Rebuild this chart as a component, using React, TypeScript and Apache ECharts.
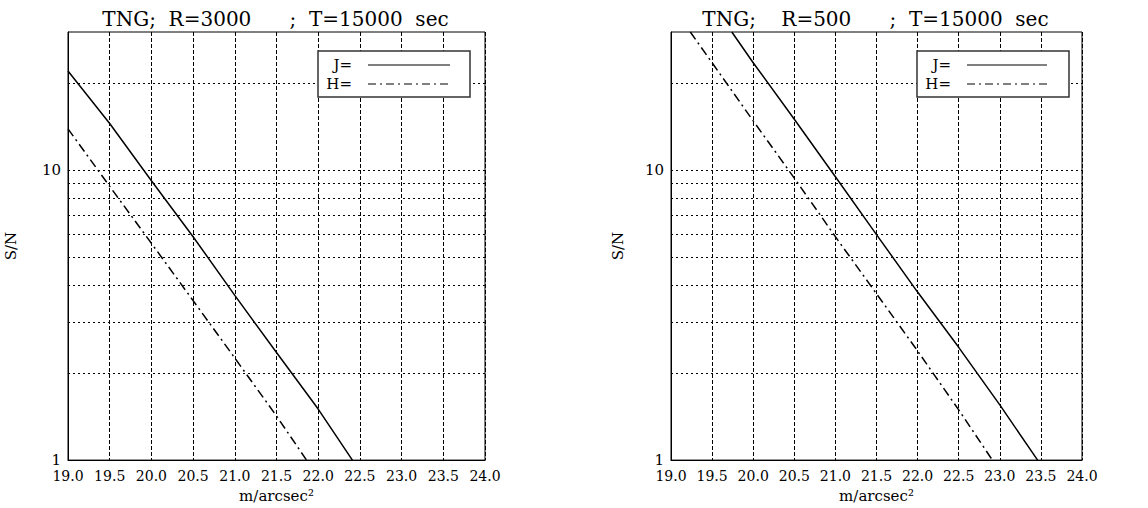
import React, { useEffect, useRef } from "react";
import * as echarts from "echarts";

// ---- data ----
const titles = ["TNG;  R=3000      ;  T=15000  sec", "TNG;    R=500      ;  T=15000  sec"];
const xMin = 19.0;
const xMax = 24.0;
const xStep = 0.5;
const yMin = 1;
const yMax = 30;
const yLabelValues = [1, 10];
const gridSN = [2, 3, 4, 5, 6, 7, 8, 9, 10, 20];

const magsLeftJ = [19.0, 19.5, 20.0, 20.5, 21.0, 21.5, 22.0, 22.41];
const snLeftJ = [22.0, 14.5, 9.2, 5.9, 3.7, 2.35, 1.5, 1.0];
const magsLeftH = [19.0, 19.5, 20.0, 20.5, 21.0, 21.5, 21.86];
const snLeftH = [13.9, 8.8, 5.6, 3.55, 2.25, 1.42, 1.0];

const magsRightJ = [19.74, 20.0, 20.5, 21.0, 21.5, 22.0, 22.5, 23.0, 23.46];
const snRightJ = [30.0, 23.5, 15.0, 9.5, 6.0, 3.8, 2.45, 1.55, 1.0];
const magsRightH = [19.235, 19.5, 20.0, 20.5, 21.0, 21.5, 22.0, 22.5, 22.91];
const snRightH = [30.0, 23.5, 14.8, 9.4, 5.9, 3.75, 2.38, 1.49, 1.0];

const legendLabels = ["J=", "H="];

const FONT = "DejaVu Serif";
const DASHDOT = [9, 4, 2, 4];

const grids = [
  { left: 68, top: 32, width: 417, height: 436 },
  { left: 671, top: 32, width: 411, height: 436 },
];

function zip(a: number[], b: number[]) {
  return a.map((v, i) => [v, b[i]]);
}

function legendGraphic(boxX: number, textRight: number, lineX1: number, lineX2: number) {
  const y0 = 51;
  return [
    {
      type: "rect",
      z: 100,
      shape: { x: boxX, y: y0, width: 152, height: 46 },
      style: { fill: "#fff", stroke: "#333", lineWidth: 1.5 },
    },
    {
      type: "text",
      z: 101,
      x: textRight,
      y: 65,
      style: { text: legendLabels[0], font: `15px "${FONT}"`, fill: "#000", textAlign: "right", textVerticalAlign: "middle" },
    },
    {
      type: "text",
      z: 101,
      x: textRight,
      y: 84,
      style: { text: legendLabels[1], font: `15px "${FONT}"`, fill: "#000", textAlign: "right", textVerticalAlign: "middle" },
    },
    {
      type: "line",
      z: 101,
      shape: { x1: lineX1, y1: 65, x2: lineX2, y2: 65 },
      style: { stroke: "#000", lineWidth: 1 },
    },
    {
      type: "line",
      z: 101,
      shape: { x1: lineX1, y1: 84, x2: lineX2, y2: 84 },
      style: { stroke: "#000", lineWidth: 1, lineDash: [8, 4, 2, 4] },
    },
  ];
}

function buildOption() {
  const xAxes = [0, 1].map((gi) => ({
    type: "value",
    gridIndex: gi,
    min: xMin,
    max: xMax,
    interval: xStep,
    name: "m/arcsec²",
    nameLocation: "middle",
    nameGap: 23,
    nameTextStyle: { fontFamily: FONT, fontSize: 15, color: "#000" },
    axisLine: { show: true, lineStyle: { color: "#000", width: 1 } },
    axisTick: { show: false },
    axisLabel: {
      margin: 9,
      fontFamily: FONT,
      fontSize: 14,
      color: "#000",
      formatter: (v: number) => v.toFixed(1),
    },
    splitLine: { show: true, lineStyle: { color: "#000", width: 1, type: [4, 2] } },
  }));
  const yAxes = [0, 1].map((gi) => ({
    type: "log",
    logBase: 10,
    gridIndex: gi,
    min: yMin,
    max: yMax,
    name: "S/N",
    nameLocation: "middle",
    nameGap: gi === 0 ? 50 : 46,
    nameTextStyle: { fontFamily: FONT, fontSize: 15, color: "#000" },
    axisLine: { show: true, lineStyle: { color: "#000", width: 1 } },
    axisTick: { show: false },
    axisLabel: {
      margin: 7,
      fontFamily: FONT,
      fontSize: 15,
      color: "#000",
      showMaxLabel: false,
      formatter: (v: number) => {
        const r = Math.round(v);
        return yLabelValues.includes(r) && Math.abs(v - r) < 1e-6 ? String(r) : "";
      },
    },
    splitLine: { show: false },
  }));

  const gridMarkLine = {
    silent: true,
    symbol: ["none", "none"],
    label: { show: false },
    lineStyle: { color: "#000", width: 1, type: [2, 3] },
    data: gridSN.map((v) => ({ yAxis: v })),
  };

  const series = [
    { data: zip(magsLeftJ, snLeftJ), gi: 0, dash: "solid" as any, ml: true },
    { data: zip(magsLeftH, snLeftH), gi: 0, dash: DASHDOT, ml: false },
    { data: zip(magsRightJ, snRightJ), gi: 1, dash: "solid" as any, ml: true },
    { data: zip(magsRightH, snRightH), gi: 1, dash: DASHDOT, ml: false },
  ].map((s) => ({
    type: "line",
    xAxisIndex: s.gi,
    yAxisIndex: s.gi,
    data: s.data,
    showSymbol: false,
    symbol: "none",
    clip: true,
    z: 5,
    lineStyle: { color: "#000", width: 1.5, type: s.dash },
    ...(s.ml ? { markLine: gridMarkLine } : {}),
  }));

  return {
    animation: false,
    backgroundColor: "#fff",
    title: titles.map((t, i) => ({
      text: t,
      left: grids[i].left + grids[i].width / 2 - 6,
      top: 4,
      textAlign: "center",
      textStyle: { fontFamily: FONT, fontSize: 20, fontWeight: "normal", color: "#000" },
    })),
    grid: grids.map((g) => ({ ...g, show: true, borderColor: "#000", borderWidth: 1, backgroundColor: "transparent" })),
    xAxis: xAxes,
    yAxis: yAxes,
    series,
    graphic: [...legendGraphic(318, 352, 368, 450), ...legendGraphic(917, 951, 967, 1047)],
  };
}

export default function App() {
  const ref = useRef<HTMLDivElement>(null);
  useEffect(() => {
    document.body.style.margin = "0";
    const chart = echarts.init(ref.current!, null, { renderer: "svg" });
    chart.setOption(buildOption() as any);
    return () => chart.dispose();
  }, []);
  return <div ref={ref} style={{ width: 1148, height: 508 }} />;
}
